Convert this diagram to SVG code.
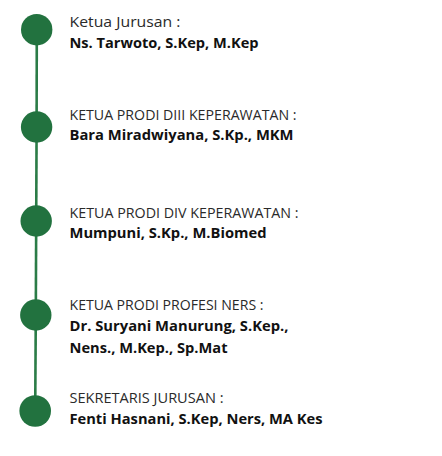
<svg xmlns="http://www.w3.org/2000/svg" width="442" height="456" viewBox="0 0 442 456">
<style>
.dot{fill:#22723f}
.ln{stroke:#2b7c47;stroke-width:2.6;fill:none}
.lab{font-family:"Open Sans","Liberation Sans",sans-serif;font-size:14.2px;fill:#2a2a2a}
.nm{font-family:"Open Sans","Liberation Sans",sans-serif;font-size:14.2px;font-weight:700;fill:#111}
</style>
<rect width="442" height="456" fill="#fff"/>
<g id="connectors">
<line class="ln" x1="36.8" y1="30" x2="36.6" y2="127"/>
<line class="ln" x1="36.6" y1="127" x2="36.2" y2="221"/>
<line class="ln" x1="36.2" y1="221" x2="35.8" y2="315"/>
<line class="ln" x1="35.8" y1="315" x2="35.2" y2="411"/>
</g>
<g id="n1">
<circle class="dot" cx="36.7" cy="29.7" r="15.7"/>
<text class="lab" x="69.5" y="26.5" textLength="111" lengthAdjust="spacingAndGlyphs">Ketua Jurusan :</text>
<text class="nm" x="69.5" y="47.5" textLength="189" lengthAdjust="spacingAndGlyphs">Ns. Tarwoto, S.Kep, M.Kep</text>
</g>
<g id="n2">
<circle class="dot" cx="36.6" cy="127" r="15.7"/>
<text class="lab" x="69.5" y="119.8" textLength="227" lengthAdjust="spacingAndGlyphs">KETUA PRODI DIII KEPERAWATAN :</text>
<text class="nm" x="69.5" y="140.3" textLength="224" lengthAdjust="spacingAndGlyphs">Bara Miradwiyana, S.Kp., MKM</text>
</g>
<g id="n3">
<circle class="dot" cx="36.2" cy="221" r="15.7"/>
<text class="lab" x="69.5" y="217.5" textLength="229" lengthAdjust="spacingAndGlyphs">KETUA PRODI DIV KEPERAWATAN :</text>
<text class="nm" x="69.5" y="238.3" textLength="197" lengthAdjust="spacingAndGlyphs">Mumpuni, S.Kp., M.Biomed</text>
</g>
<g id="n4">
<circle class="dot" cx="35.8" cy="315" r="15.7"/>
<text class="lab" x="69.5" y="310.3" textLength="194" lengthAdjust="spacingAndGlyphs">KETUA PRODI PROFESI NERS :</text>
<text class="nm" x="69.5" y="331.3" textLength="219" lengthAdjust="spacingAndGlyphs">Dr. Suryani Manurung, S.Kep.,</text>
<text class="nm" x="69.5" y="352.8" textLength="158" lengthAdjust="spacingAndGlyphs">Nens., M.Kep., Sp.Mat</text>
</g>
<g id="n5">
<circle class="dot" cx="35.2" cy="411" r="15.8"/>
<text class="lab" x="69.5" y="403.3" textLength="154" lengthAdjust="spacingAndGlyphs">SEKRETARIS JURUSAN :</text>
<text class="nm" x="69.5" y="424.3" textLength="253" lengthAdjust="spacingAndGlyphs">Fenti Hasnani, S.Kep, Ners, MA Kes</text>
</g>
</svg>
